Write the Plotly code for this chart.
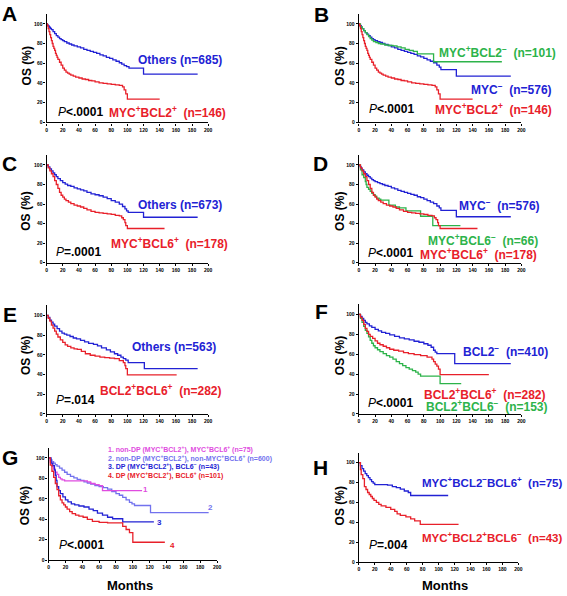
import plotly.graph_objects as go

W, H = 567, 596

BLUE = "#2222d4"
RED = "#e8202a"
GREEN = "#2db34a"
MAGENTA = "#e04ce0"
LAV = "#7272ee"
FONT = "Liberation Sans"

# ---------------- data (months, OS %) ----------------
A_others_t = [0, 1, 2, 3, 4, 5, 6, 8, 10, 12, 14, 16, 18, 20, 22, 25, 28, 31, 34, 38, 42, 46, 50, 54, 58, 62, 66, 70, 74, 78, 82, 86, 90, 93, 96, 99, 102, 120, 187]
A_others_s = [100, 99, 98, 97, 96, 95, 94, 92, 90, 88, 86.5, 85, 84, 83, 82, 80.5, 79.5, 78.5, 77.5, 76.5, 75.5, 74, 73, 72, 71, 70, 68.5, 67.5, 66, 65, 63.5, 62, 60.5, 59, 57.5, 56.5, 55, 49, 49]
A_mb2_t = [0, 1, 2, 3, 4, 5, 6, 7, 8, 9, 10, 11, 12, 13, 14, 16, 18, 20, 22, 24, 26, 28, 30, 33, 36, 40, 44, 48, 52, 56, 60, 65, 70, 75, 80, 85, 90, 94, 96, 98, 100, 140]
A_mb2_s = [100, 98, 95, 92, 89, 86, 83, 80, 77, 75, 73, 70, 68, 66, 64, 61, 58, 55, 53, 51, 50, 49, 48, 47, 46, 45, 44, 43.5, 42.5, 42, 41, 40, 39.5, 39, 38.5, 38, 37.5, 36, 33, 29, 23.5, 23.5]

MYCneg_t = [0, 1, 2, 3, 4, 6, 8, 10, 12, 14, 16, 18, 20, 23, 26, 29, 32, 36, 40, 44, 48, 52, 56, 60, 64, 68, 72, 76, 80, 84, 88, 92, 96, 99, 101, 120, 187]
MYCneg_s = [100, 99, 98, 96.5, 95, 93, 91, 89.5, 88, 86.5, 85, 84, 83, 82, 81, 80, 79, 78, 76.5, 75.5, 74, 73, 72, 71, 70, 69, 67.5, 66.5, 65, 63.5, 62, 60.5, 58, 56, 53.5, 47, 47]
B_mb2neg_t = [0, 2, 4, 6, 8, 10, 12, 14, 16, 18, 21, 24, 27, 32, 37, 42, 47, 52, 57, 62, 67, 72, 92, 176]
B_mb2neg_s = [100, 97, 95, 93, 91, 89, 87, 85, 83.5, 82, 81, 80, 79.5, 78.5, 78, 77.5, 76.5, 75.5, 74, 73, 72, 69.5, 61.5, 61.5]

C_others_t = [0, 2, 4, 6, 8, 10, 12, 14, 17, 20, 23, 26, 30, 34, 38, 42, 46, 50, 55, 60, 65, 70, 75, 80, 85, 90, 94, 97, 99, 101, 120, 187]
C_others_s = [100, 98, 96, 94, 92, 90, 88, 86, 84, 82, 80.5, 79, 78, 76.5, 75.5, 74.5, 73.5, 72, 70.5, 69.5, 68.5, 67, 65.5, 63.5, 62, 60, 57.5, 55, 53, 51.5, 46.5, 46.5]
MB6_t = [0, 2, 4, 6, 8, 10, 12, 14, 16, 18, 20, 22, 24, 27, 30, 34, 38, 42, 46, 50, 55, 60, 65, 70, 75, 80, 85, 90, 93, 95, 97, 98, 100, 146]
MB6_s = [100, 97, 94, 91, 88, 84, 80, 76, 72, 69, 67, 65, 63.5, 62, 60.5, 59, 58, 57, 55.5, 54, 52.5, 51.5, 51, 50.5, 50, 49.5, 48.5, 48, 46, 44, 41, 38, 35, 35]

D_mb6neg_t = [0, 2, 4, 6, 8, 9, 10, 12, 14, 16, 18, 20, 22, 25, 27, 37, 45, 50, 58, 76, 91, 125]
D_mb6neg_s = [100, 95, 90, 87, 83, 80, 77, 75, 73, 71, 69.5, 68, 66, 65, 64, 59, 57, 56, 53, 47.5, 38, 38]

E_others_t = [0, 2, 4, 6, 8, 10, 13, 16, 19, 22, 25, 29, 33, 37, 42, 47, 52, 58, 63, 68, 74, 79, 84, 88, 92, 95, 98, 101, 121, 187]
E_others_s = [100, 98, 95, 93, 91, 89, 86.5, 84, 82, 81, 80, 78.5, 77, 76, 74.5, 73, 71.5, 70.5, 69, 67, 65, 63, 61, 59.5, 57.5, 56, 54.5, 52, 46, 46]
E_b26_t = [0, 2, 4, 6, 8, 10, 12, 14, 17, 20, 23, 26, 30, 34, 38, 43, 48, 54, 60, 66, 72, 78, 84, 90, 95, 97, 98, 100, 161]
E_b26_s = [100, 97, 94, 90, 87, 84, 81, 78, 75, 72.5, 70, 68.5, 67, 66, 65.5, 63.5, 61, 59.5, 58.5, 57.5, 57, 56.5, 56, 54, 52, 49, 46, 39.5, 39.5]

F_bcl2neg_t = [0, 2, 4, 6, 8, 10, 13, 16, 20, 24, 28, 33, 38, 44, 50, 56, 62, 68, 74, 80, 85, 89, 92, 94, 96, 118, 187]
F_bcl2neg_s = [100, 98, 96, 94, 92, 90.5, 88.5, 87, 85, 83.5, 82, 81, 79.5, 78, 76.5, 75.5, 74.5, 73, 72, 70.5, 69, 67, 64, 62, 60.5, 50.5, 50.5]
F_b26_t = [0, 2, 4, 6, 8, 10, 12, 14, 17, 20, 23, 26, 30, 34, 38, 43, 49, 55, 61, 68, 76, 84, 90, 92, 94, 96, 98, 100, 160]
F_b26_s = [100, 97, 94, 90, 86, 83, 80, 78, 76, 73.5, 71, 69.5, 68, 66.5, 65, 64, 63, 61.5, 60.5, 59.5, 58.5, 57, 55, 52.5, 50, 48, 45, 39.5, 39.5]
F_b26neg_t = [0, 2, 4, 6, 8, 10, 12, 14, 16, 18, 20, 23, 26, 30, 34, 38, 42, 46, 50, 54, 58, 62, 66, 70, 73, 76, 100, 126]
F_b26neg_s = [100, 96, 92, 88, 84, 81, 77.5, 74, 71, 68.5, 66.5, 64.5, 62.5, 60.5, 58.5, 57, 55, 52.5, 50.5, 48.5, 46.5, 45, 43.5, 42, 40, 38, 30.5, 30.5]

G_c1_t = [0, 2, 4, 6, 8, 10, 12, 14, 16, 19, 46, 50, 55, 60, 64, 111]
G_c1_s = [100, 96, 92, 89, 86, 84, 81, 79.5, 78.5, 77.5, 76.5, 75, 74, 73, 68, 68]
G_c2_t = [0, 2, 4, 6, 8, 10, 13, 16, 19, 22, 26, 30, 34, 38, 42, 46, 50, 55, 60, 65, 70, 75, 80, 84, 88, 92, 96, 99, 102, 121, 190]
G_c2_s = [100, 98, 96.5, 95, 93.5, 92, 90, 88, 86, 84, 82, 80.5, 79, 78, 76.5, 75.5, 74.5, 73, 72, 71, 69.5, 67, 65, 63.5, 61.5, 59, 56.5, 55, 53.5, 46.5, 46.5]
G_c3_t = [0, 3, 5, 7, 8, 9, 10, 12, 14, 17, 20, 23, 27, 31, 36, 42, 48, 53, 58, 64, 70, 76, 88, 125]
G_c3_s = [100, 95, 92.5, 88, 83, 78, 72, 68, 65, 62, 59, 57, 55, 54, 53, 52, 50, 48.5, 46, 44, 42, 40.5, 37.5, 37.5]
G_c4_t = [0, 2, 4, 6, 8, 10, 12, 14, 16, 18, 20, 22, 25, 28, 32, 36, 41, 46, 52, 60, 70, 80, 88, 92, 96, 100, 138]
G_c4_s = [100, 93, 87, 81, 75, 69, 63, 59, 56, 54, 52, 50, 47.5, 45.5, 44, 43, 42, 40, 38, 37, 36.5, 36.5, 33, 30, 27, 17.5, 17.5]

H_b6pos_t = [0, 2, 4, 6, 8, 10, 12, 14, 16, 18, 20, 36, 42, 47, 52, 57, 62, 65, 112]
H_b6pos_s = [100, 97, 94, 91.5, 89, 87, 85, 83, 81, 79.5, 78, 77.5, 76, 75, 73.5, 71.5, 70, 67, 67]
H_b6neg_t = [0, 2, 3, 5, 7, 9, 11, 13, 15, 17, 19, 22, 25, 28, 34, 40, 45, 48, 52, 59, 65, 70, 77, 125]
H_b6neg_s = [100, 93, 88, 84, 76, 73, 70, 68, 66, 64, 62, 60, 58, 56.5, 55, 53, 51, 48.5, 47, 45.5, 43.5, 41.5, 38, 38]

x_ticks = [0, 20, 40, 60, 80, 100, 120, 140, 160, 180, 200]
y_ticks = [0, 20, 40, 60, 80, 100]

# ---------------- layout geometry (pixels) ----------------
panels = {
    "A": (46, 209, 14, 123),
    "B": (361, 525, 14, 123),
    "C": (46, 209, 156, 264),
    "D": (361, 525, 156, 264),
    "E": (46, 209, 307, 416),
    "F": (361, 525, 306, 416),
    "G": (48, 218, 450, 563),
    "H": (361, 522, 455, 565),
}

curves = {
    "A": [(A_others_t, A_others_s, BLUE), (A_mb2_t, A_mb2_s, RED)],
    "B": [(MYCneg_t, MYCneg_s, BLUE), (B_mb2neg_t, B_mb2neg_s, GREEN), (A_mb2_t, A_mb2_s, RED)],
    "C": [(C_others_t, C_others_s, BLUE), (MB6_t, MB6_s, RED)],
    "D": [(MYCneg_t, MYCneg_s, BLUE), (D_mb6neg_t, D_mb6neg_s, GREEN), (MB6_t, MB6_s, RED)],
    "E": [(E_others_t, E_others_s, BLUE), (E_b26_t, E_b26_s, RED)],
    "F": [(F_bcl2neg_t, F_bcl2neg_s, BLUE), (F_b26neg_t, F_b26neg_s, GREEN), (F_b26_t, F_b26_s, RED)],
    "G": [(G_c2_t, G_c2_s, LAV), (G_c1_t, G_c1_s, MAGENTA), (G_c3_t, G_c3_s, BLUE), (G_c4_t, G_c4_s, RED)],
    "H": [(H_b6pos_t, H_b6pos_s, BLUE), (H_b6neg_t, H_b6neg_s, RED)],
}

fig = go.Figure()
layout = {}
for i, (name, (x0, x1, yt, yb)) in enumerate(panels.items()):
    k = "" if i == 0 else str(i + 1)
    xa, ya = "x" + k, "y" + k
    for t, s, c in curves[name]:
        fig.add_trace(go.Scatter(x=t, y=s, mode="lines", line=dict(color=c, width=1.3, shape="hv"),
                                 xaxis=xa, yaxis=ya, showlegend=False, hoverinfo="skip"))
    common = dict(showgrid=False, zeroline=False, showline=True, linecolor="black", linewidth=1.3,
                  ticks="outside", ticklen=2, tickwidth=1, tickcolor="black",
                  tickfont=dict(family=FONT, size=5, color="black", weight="bold"))
    layout["xaxis" + k] = dict(common, domain=[x0 / W, x1 / W], range=[0, 200], tickvals=x_ticks,
                               anchor=ya, fixedrange=True)
    layout["yaxis" + k] = dict(common, domain=[1 - yb / H, 1 - yt / H], range=[0, 110], tickvals=y_ticks,
                               anchor=xa, fixedrange=True)

fig.update_layout(**layout)

ann = []


def txt(x, y, text, color="black", size=12, xanchor="left", angle=0, yanchor="middle"):
    ann.append(dict(x=x / W, y=1 - y / H, xref="paper", yref="paper", text=text, showarrow=False,
                    xanchor=xanchor, yanchor=yanchor, textangle=angle,
                    font=dict(family=FONT, size=size, color=color, weight="bold")))


P = "<span style='font-weight:normal'><i>P</i></span>"
sp, sm = "<sup>+</sup>", "<sup>\u2212</sup>"

for L, (x, y) in {"A": (9, 0), "B": (323, 1), "C": (9, 151), "D": (322, 151), "E": (9, 303),
                  "F": (323, 300), "G": (9, 446), "H": (322, 456)}.items():
    txt(x, y, L, size=21, xanchor="center", yanchor="top")

for x, y in [(26, 66), (342, 66), (25, 212), (342, 212), (25, 357), (342, 357), (25, 508), (342, 508)]:
    txt(x, y, "OS (%)", size=12, xanchor="center", angle=-90)

txt(130, 588, "Months", size=13, xanchor="center")
txt(448, 588, "Months", size=13, xanchor="center")

# A
txt(136, 60, "Others (n=685)", BLUE)
txt(55, 113, P + "&lt;.0001")
txt(107, 113, "MYC" + sp + "BCL2" + sp + "  (n=146)", RED)
# B
txt(440, 52, "MYC" + sp + "BCL2" + sm + "  (n=101)", GREEN)
txt(472, 89, "MYC" + sm + "  (n=576)", BLUE)
txt(369, 110, P + "&lt;.0001")
txt(436, 110, "MYC" + sp + "BCL2" + sp + "  (n=146)", RED)
# C
txt(136, 206, "Others (n=673)", BLUE)
txt(109, 244, "MYC" + sp + "BCL6" + sp + "  (n=178)", RED)
txt(53, 253, P + "=.0001")
# D
txt(460, 206, "MYC" + sm + "  (n=576)", BLUE)
txt(429, 241, "MYC" + sp + "BCL6" + sm + "  (n=66)", GREEN)
txt(421, 255, "MYC" + sp + "BCL6" + sp + "  (n=178)", RED)
txt(368, 254, P + "&lt;.0001")
# E
txt(130, 349, "Others (n=563)", BLUE)
txt(98, 392, "BCL2" + sp + "BCL6" + sp + "  (n=282)", RED)
txt(53, 402, P + "=.014")
# F
txt(464, 353, "BCL2" + sm + "  (n=410)", BLUE)
txt(425, 396, "BCL2" + sp + "BCL6" + sp + "  (n=282)", RED)
txt(427, 408, "BCL2" + sp + "BCL6" + sm + "  (n=153)", GREEN)
txt(368, 405, P + "&lt;.0001")
# G
txt(106, 452, "1. non-DP (MYC" + sp + "BCL2" + sp + "), MYC" + sp + "BCL6" + sp + " (n=75)", MAGENTA, size=7)
txt(106, 461, "2. non-DP (MYC" + sp + "BCL2" + sp + "), non-MYC" + sp + "BCL6" + sp + " (n=600)", LAV, size=7)
txt(106, 469, "3. DP (MYC" + sp + "BCL2" + sp + "), BCL6" + sm + " (n=43)", BLUE, size=7)
txt(106, 478, "4. DP (MYC" + sp + "BCL2" + sp + "), BCL6" + sp + " (n=101)", RED, size=7)
txt(146, 492, "1", MAGENTA, size=8, xanchor="center")
txt(211, 510, "2", LAV, size=8, xanchor="center")
txt(160, 525, "3", BLUE, size=8, xanchor="center")
txt(173, 548, "4", RED, size=8, xanchor="center")
txt(57, 548, P + "&lt;.0001")
# H
txt(423, 484, "MYC" + sp + "BCL2" + sm + "BCL6" + sp + "  (n=75)", BLUE, size=11.5)
txt(423, 540, "MYC" + sp + "BCL2" + sp + "BCL6" + sm + "  (n=43)", RED, size=11.5)
txt(369, 548, P + "=.004")

fig.update_layout(annotations=ann, width=W, height=H, margin=dict(l=0, r=0, t=0, b=0, pad=0),
                  paper_bgcolor="white", plot_bgcolor="white",
                  font=dict(family=FONT, color="black"))

fig.write_html("out.html", config={"displayModeBar": False},
               post_script="document.body.style.margin='0px';document.body.style.padding='0px';")
